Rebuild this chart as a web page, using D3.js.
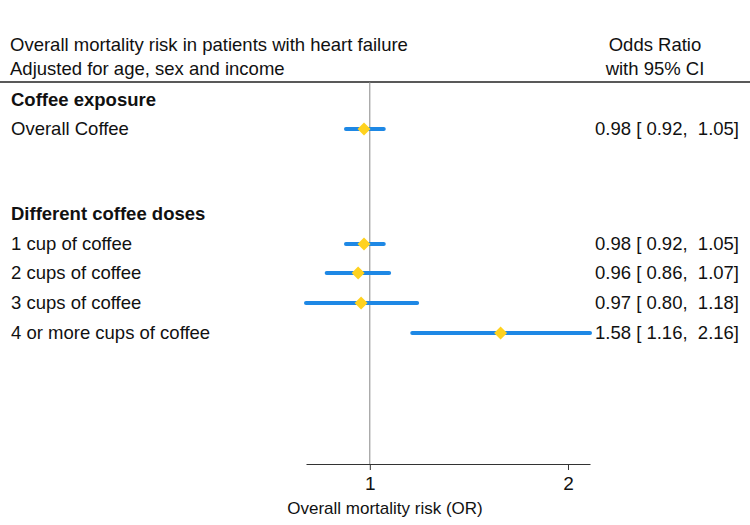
<!DOCTYPE html>
<html>
<head>
<meta charset="utf-8">
<script src="https://cdn.jsdelivr.net/npm/d3@7"></script>
<style>
  body { margin: 0; background: #fff; }
  svg { display: block; font-family: "Liberation Sans", Arial, sans-serif; }
</style>
</head>
<body>
<div id="chart"></div>
<script>
const titleLines = ["Overall mortality risk in patients with heart failure", "Adjusted for age, sex and income"];
const estHeader = ["Odds Ratio", "with 95% CI"];
const rowLabels = ["Coffee exposure", "Overall Coffee", "", "Different coffee doses", "1 cup of coffee", "2 cups of coffee", "3 cups of coffee", "4 or more cups of coffee"];
const rowBold = [true, false, false, true, false, false, false, false];
const orValues = [null, 0.98, null, null, 0.98, 0.96, 0.97, 1.58];
const ciLower = [null, 0.92, null, null, 0.92, 0.86, 0.80, 1.16];
const ciUpper = [null, 1.05, null, null, 1.05, 1.07, 1.18, 2.16];
const xTicks = [1, 2];
const xTitle = "Overall mortality risk (OR)";

function renderChart(el) {
  const W = 750, H = 525;
  const svg = d3.select(el).append("svg").attr("width", W).attr("height", H);

  const x = d3.scaleLog().domain([0.80, 2.16]).range([306, 590]);
  const rowY = [100, 129, 159, 214, 244, 273, 303, 333];
  const axisY = 464;
  const fs = 18.5;

  // header
  svg.selectAll(".title").data(titleLines).enter().append("text")
    .attr("x", 10).attr("y", (d, i) => 51 + i * 24)
    .style("font-size", fs + "px").attr("fill", "#111").text(d => d);
  svg.selectAll(".esth").data(estHeader).enter().append("text")
    .attr("x", 655).attr("y", (d, i) => 51 + i * 24)
    .attr("text-anchor", "middle")
    .style("font-size", fs + "px").attr("fill", "#111").text(d => d);
  svg.append("line").attr("x1", 0).attr("x2", W).attr("y1", 82).attr("y2", 82)
    .attr("stroke", "#222").attr("stroke-width", 1.5);

  // reference line at OR = 1
  svg.append("line").attr("x1", x(1)).attr("x2", x(1)).attr("y1", 82).attr("y2", axisY)
    .attr("stroke", "#888").attr("stroke-width", 1);

  // row labels
  svg.selectAll(".lab").data(rowLabels).enter().append("text")
    .attr("x", 11).attr("y", (d, i) => rowY[i] + 6)
    .style("font-size", fs + "px")
    .style("font-weight", (d, i) => rowBold[i] ? "bold" : "normal")
    .attr("fill", "#111").text(d => d);

  const rows = d3.range(rowLabels.length).filter(i => orValues[i] != null);

  svg.selectAll(".ci").data(rows).enter().append("line")
    .attr("x1", i => x(ciLower[i])).attr("x2", i => x(ciUpper[i]))
    .attr("y1", i => rowY[i]).attr("y2", i => rowY[i])
    .attr("stroke", "#1e88e5").attr("stroke-width", 4).attr("stroke-linecap", "round");

  const d = 6.5;
  svg.selectAll(".pt").data(rows).enter().append("path")
    .attr("d", `M0,${-d}L${d},0L0,${d}L${-d},0Z`)
    .attr("transform", i => `translate(${x(orValues[i])},${rowY[i]})`)
    .attr("fill", "#ffd21f");

  const f = d3.format(".2f");
  svg.selectAll(".est").data(rows).enter().append("text")
    .attr("x", 739).attr("y", i => rowY[i] + 6)
    .attr("text-anchor", "end")
    .style("font-size", fs + "px").attr("fill", "#111")
    .style("white-space", "pre")
    .attr("xml:space", "preserve")
    .text(i => `${f(orValues[i])} [ ${f(ciLower[i])},  ${f(ciUpper[i])}]`);

  // x axis
  const ax = svg.append("g").attr("transform", `translate(0,${axisY})`)
    .call(d3.axisBottom(x).tickValues(xTicks).tickFormat(d3.format("d")).tickSize(6).tickSizeOuter(0));
  ax.select(".domain").attr("stroke", "#333");
  ax.selectAll(".tick line").attr("stroke", "#333");
  ax.selectAll(".tick text").style("font-size", "19px")
    .style("font-family", "'Liberation Sans', Arial, sans-serif").attr("fill", "#111").attr("dy", "0.9em");

  svg.append("text").attr("x", 385).attr("y", 514).attr("text-anchor", "middle")
    .style("font-size", "17px").attr("fill", "#111").text(xTitle);
}

renderChart(document.getElementById("chart"));
</script>
</body>
</html>
